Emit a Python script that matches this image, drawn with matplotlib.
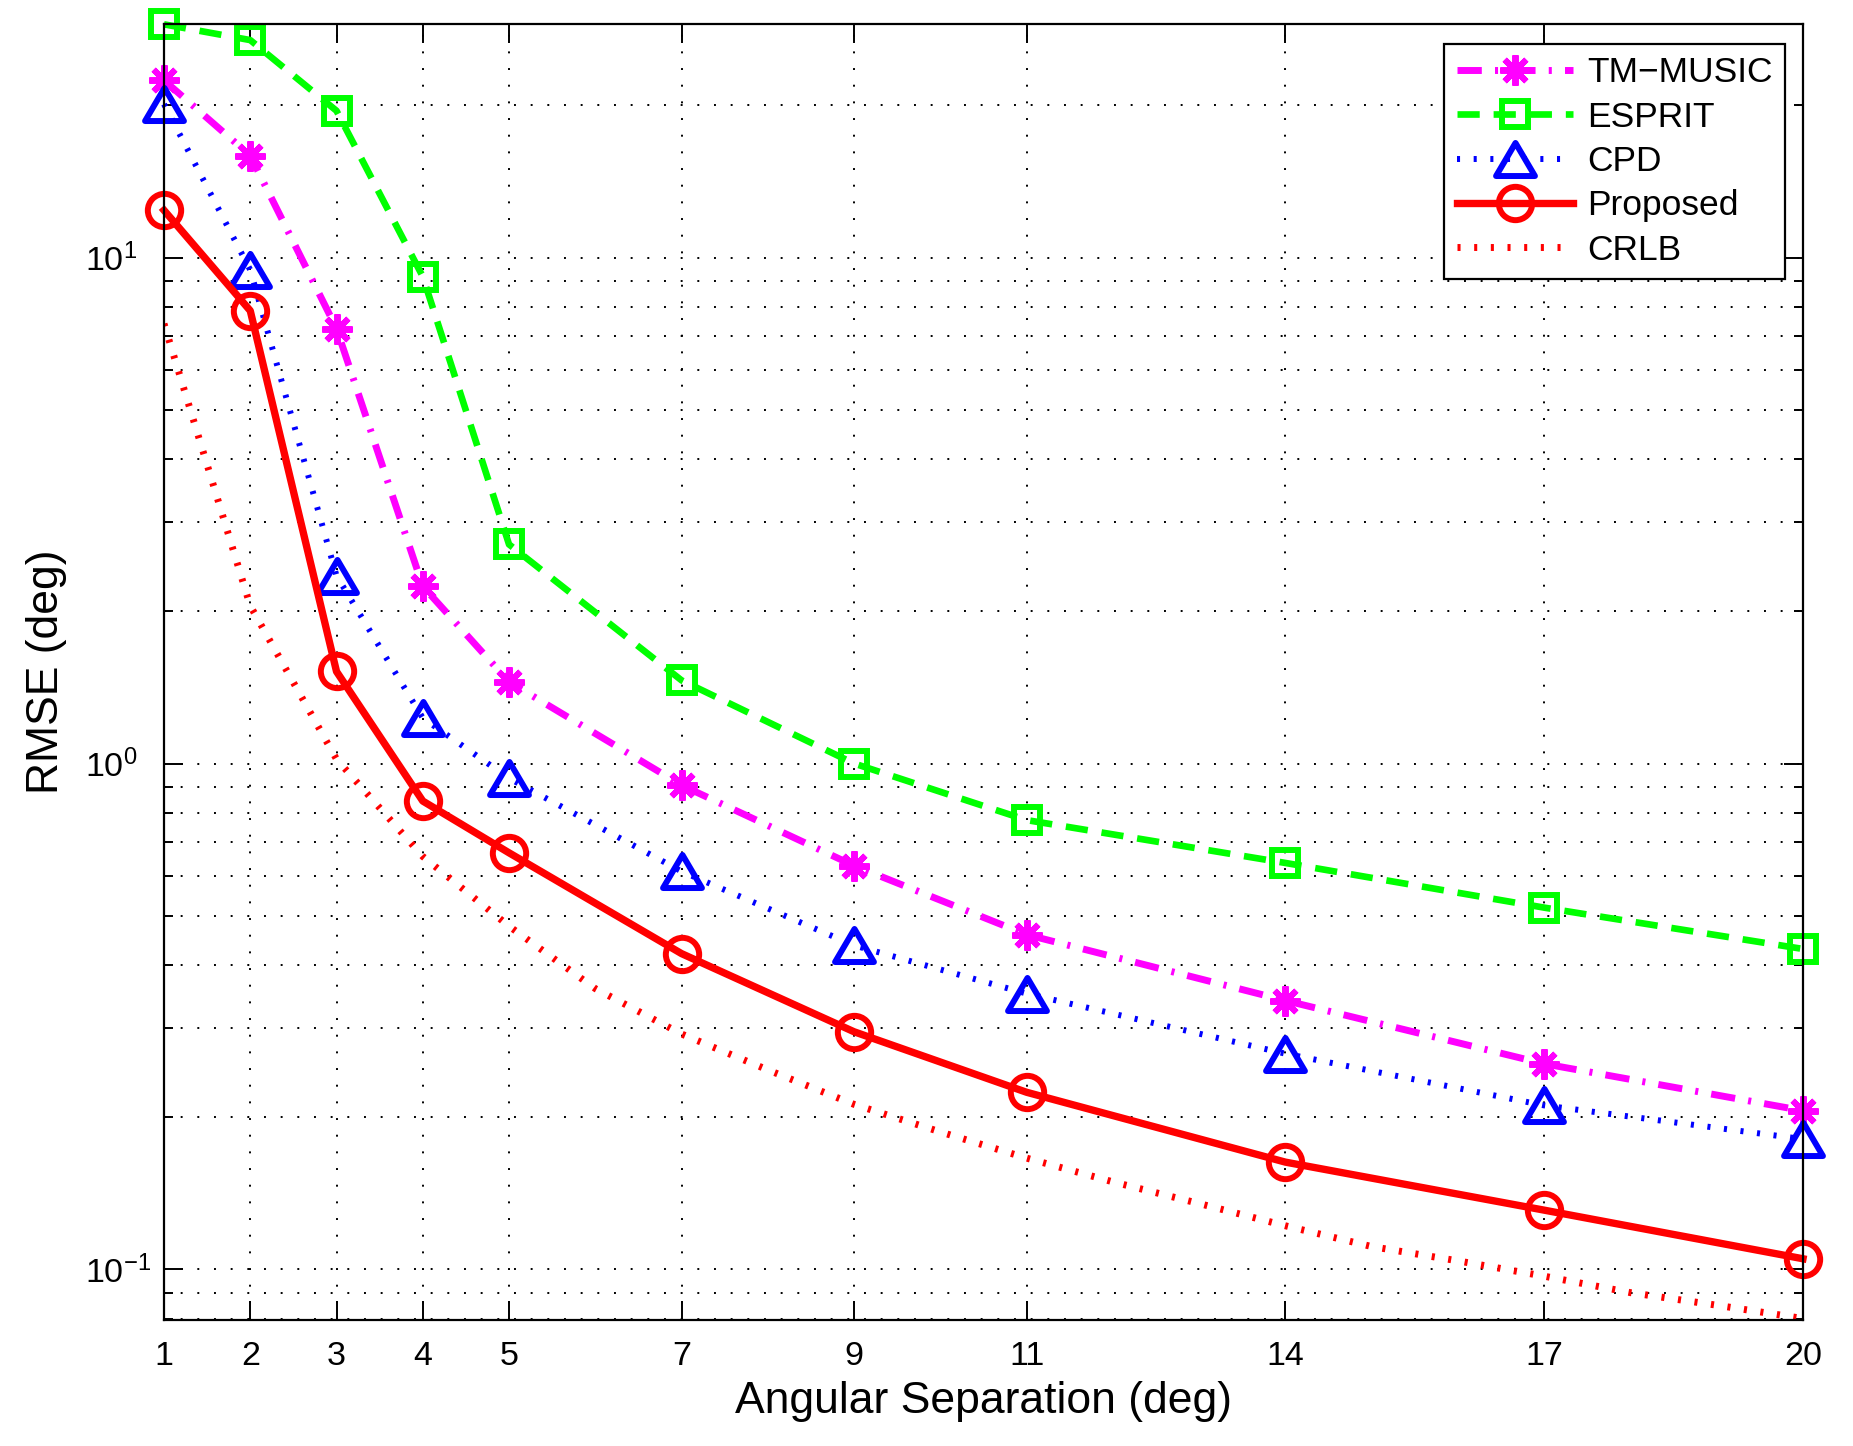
import matplotlib
matplotlib.use("Agg")
import matplotlib.pyplot as plt
from matplotlib.path import Path
from matplotlib.markers import MarkerStyle
from matplotlib.ticker import FixedLocator, LogLocator, NullFormatter, NullLocator

plt.rcParams['font.family'] = ['Liberation Sans', 'DejaVu Sans']
plt.rcParams['lines.scale_dashes'] = False

# ---------------- data ----------------
sep = [1, 2, 3, 4, 5, 7, 9, 11, 14, 17, 20]
tm_music = [22.4, 15.9, 7.24, 2.24, 1.45, 0.906, 0.628, 0.459, 0.340, 0.255, 0.206]
esprit = [28.9, 26.9, 19.5, 9.17, 2.71, 1.46, 1.00, 0.773, 0.636, 0.519, 0.430]
cpd = [20.1, 9.45, 2.35, 1.23, 0.935, 0.612, 0.437, 0.351, 0.267, 0.211, 0.181]
proposed = [12.4, 7.85, 1.52, 0.843, 0.666, 0.421, 0.295, 0.224, 0.163, 0.131, 0.105]

crlb_sep = [1, 2, 3, 4, 5, 6, 7, 8, 9, 10, 11, 12, 13, 14, 15, 16, 17, 18, 19, 20]
crlb = [7.4, 2.05, 1.02, 0.655, 0.477, 0.359, 0.292, 0.248, 0.212, 0.187, 0.166,
        0.149, 0.135, 0.122, 0.111, 0.104, 0.097, 0.090, 0.085, 0.080]

xtick_vals = [1, 2, 3, 4, 5, 7, 9, 11, 14, 17, 20]
xtick_labels = ['1', '2', '3', '4', '5', '7', '9', '11', '14', '17', '20']
labels = ['TM\u2212MUSIC', 'ESPRIT', 'CPD', 'Proposed', 'CRLB']
xlabel = 'Angular Separation (deg)'
ylabel = 'RMSE (deg)'

# ---------------- figure ----------------
fig = plt.figure(figsize=(18.53, 14.46), dpi=100)
ax = fig.add_axes([0.0885, 0.0874, 0.8845, 0.8963])

tri_path = Path([(0, 0.85), (-1, -0.85), (1, -0.85), (0, 0.85)],
                [Path.MOVETO, Path.LINETO, Path.LINETO, Path.CLOSEPOLY])
tri = MarkerStyle(tri_path, joinstyle='miter')
sq = MarkerStyle('s', joinstyle='miter')

mew = 4.3
ax.plot(sep, tm_music, color=(1, 0, 1), lw=5.0, dashes=(17.5, 9.5, 2.2, 9.5),
        marker=(8, 2, 0), ms=22, mew=mew, mfc='none', label=labels[0], clip_on=False)
ax.plot(sep, esprit, color=(0, 1, 0), lw=4.8, dashes=(16.0, 10.0),
        marker=sq, ms=19, mew=mew, mfc='none', label=labels[1], clip_on=False)
ax.plot(sep, cpd, color=(0, 0, 1), lw=4.3, dashes=(2.2, 9.8),
        marker=tri, ms=28, mew=mew, mfc='none', label=labels[2], clip_on=False)
ax.plot(sep, proposed, color=(1, 0, 0), lw=5.3, linestyle='-',
        marker='o', ms=24, mew=mew, mfc='none', label=labels[3], clip_on=False)
ax.plot(crlb_sep, crlb, color=(1, 0, 0), lw=5.0, dashes=(2.2, 9.8),
        label=labels[4])

ax.set_yscale('log')
ax.set_xlim(1, 20)
ax.set_ylim(0.0796, 29.0)

ax.xaxis.set_major_locator(FixedLocator(xtick_vals))
ax.set_xticklabels(xtick_labels)
ax.xaxis.set_minor_locator(NullLocator())
ax.yaxis.set_major_locator(LogLocator(base=10))
ax.yaxis.set_minor_locator(LogLocator(base=10, subs=[2, 3, 4, 5, 6, 7, 8, 9]))
ax.yaxis.set_minor_formatter(NullFormatter())

grid_style = (0, (1.4, 10.6))
ax.grid(True, which='major', axis='both', color='k', lw=1.4, linestyle=grid_style)
ax.grid(True, which='minor', axis='y', color='k', lw=1.4, linestyle=grid_style)
ax.set_axisbelow(True)

ax.tick_params(which='major', direction='in', length=13.4, width=1.4,
               top=True, right=True, labelsize=24.5, colors='k')
ax.tick_params(which='minor', direction='in', length=6.7, width=1.4,
               top=True, right=True)
ax.tick_params(axis='x', which='major', pad=15.5)
ax.tick_params(axis='y', which='major', pad=57)
for lbl in ax.get_yticklabels():
    lbl.set_horizontalalignment('left')
for s in ax.spines.values():
    s.set_linewidth(1.6)
    s.set_color('k')

ax.set_xlabel(xlabel, fontsize=32)
ax.set_ylabel(ylabel, fontsize=32)
ax.xaxis.set_label_coords(0.5, -0.0474)
ax.yaxis.set_label_coords(-0.0594, 0.5)

leg = ax.legend(loc='upper right', bbox_to_anchor=(0.98902, 0.98426),
                borderaxespad=0, fontsize=25.5, frameon=True, fancybox=False,
                edgecolor='k', framealpha=1, handlelength=3.28,
                handletextpad=0.4, labelspacing=0.32, borderpad=0.35,
                numpoints=1)
leg.get_frame().set_linewidth(1.6)

fig.savefig('out.png', dpi=100, facecolor='white')
